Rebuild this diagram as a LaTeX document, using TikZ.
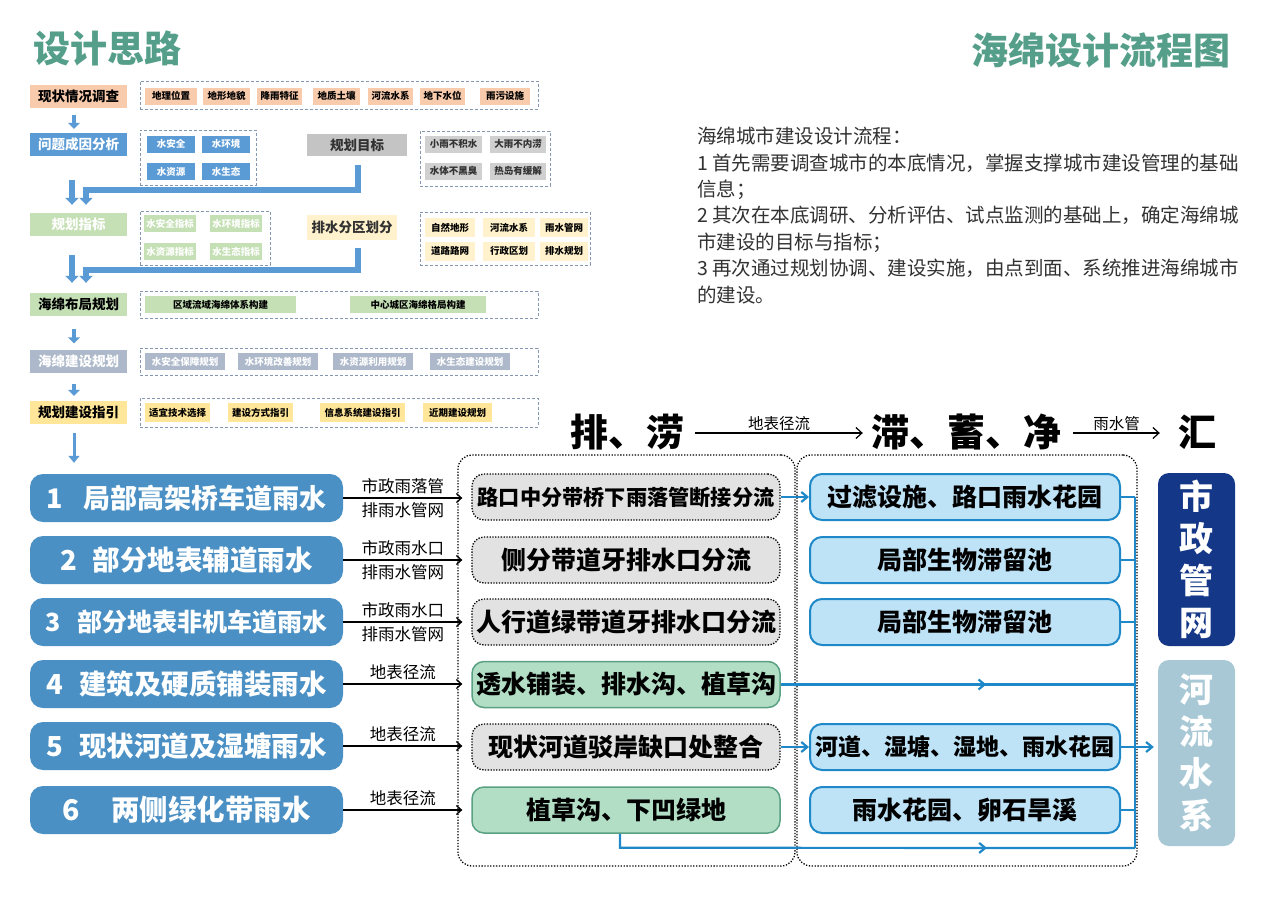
\documentclass[tikz,border=0pt]{standalone}
\usepackage{fontspec}
\setmainfont{Noto Sans CJK SC}
\usetikzlibrary{arrows.meta,calc,decorations.markings}
\newcommand{\myfs}[1]{\fontsize{#1}{#1}\selectfont}
\definecolor{flowblue}{RGB}{91,155,213}
\definecolor{dashc}{RGB}{132,151,176}
\definecolor{salmon}{RGB}{248,203,173}
\definecolor{goalgray}{RGB}{196,196,196}
\definecolor{darktxt}{RGB}{50,50,50}
\definecolor{lgreen}{RGB}{197,224,180}
\definecolor{lyellow}{RGB}{255,242,204}
\definecolor{graybl}{RGB}{173,185,202}
\definecolor{yel}{RGB}{255,230,153}
\definecolor{bigblue}{RGB}{74,144,196}
\definecolor{midgray}{RGB}{226,226,226}
\definecolor{midgreen}{RGB}{178,222,197}
\definecolor{midgreenb}{RGB}{90,160,130}
\definecolor{rfill}{RGB}{190,227,247}
\definecolor{rborder}{RGB}{30,136,200}
\definecolor{navy}{RGB}{20,55,135}
\definecolor{river}{RGB}{168,200,214}
\definecolor{teal}{RGB}{84,158,138}
\begin{document}
\begin{tikzpicture}[x=1pt,y=-1pt,
  mainbox/.style={minimum width=97pt,minimum height=23pt,inner sep=0pt,font=\myfs{13.5}\bfseries},
  item/.style={minimum height=17pt,inner sep=0pt,font=\myfs{9.5}\bfseries},
  dbox/.style={draw=dashc,dash pattern=on 3pt off 2pt,line width=0.8pt,inner sep=0pt},
  fatarrow/.style={draw=flowblue,line width=5.5pt,-{Triangle[length=7pt,width=13pt]}},
  stubarrow/.style={draw=flowblue,line width=4.5pt,-{Triangle[length=6pt,width=12pt]}},
  bigbox/.style={fill=bigblue,rounded corners=13pt,minimum width=313pt,minimum height=48pt,inner sep=0pt,text=white,font=\bfseries},
  midg/.style={fill=midgray,draw=black,dash pattern=on 1.3pt off 1.5pt,line width=1.3pt,rounded corners=12pt,minimum width=308pt,minimum height=46pt,inner sep=0pt,font=\myfs{25}\bfseries},
  midgr/.style={fill=midgreen,draw=midgreenb,line width=1.5pt,rounded corners=12pt,minimum width=308pt,minimum height=46pt,inner sep=0pt,font=\myfs{25}\bfseries},
  rbox/.style={fill=rfill,draw=rborder,line width=2pt,rounded corners=12pt,minimum width=310pt,minimum height=46pt,inner sep=0pt,font=\myfs{25}\bfseries},
  cont/.style={draw=black,dash pattern=on 1.3pt off 1.6pt,line width=1.3pt,rounded corners=14pt,inner sep=0pt},
  larrow/.style={draw=black,line width=1.3pt,-{Straight Barb[length=5pt,width=9pt]}},
  lab/.style={font=\myfs{16.5},inner sep=4pt},
  bl/.style={draw=rborder,line width=2.2pt},
  blarrow/.style={draw=rborder,line width=2.2pt,-{Straight Barb[length=6pt,width=10pt]}},
  midarr/.style={postaction={decorate},decoration={markings,mark=at position #1 with {\arrow[line width=2.2pt]{Straight Barb[length=6pt,width=10pt]}}}},
  hdr/.style={font=\myfs{38}\bfseries,inner sep=0pt},
  harrow/.style={draw=black,line width=1.2pt,-{Straight Barb[length=6pt,width=11pt]}},
  vbox/.style={rounded corners=11pt,minimum width=77pt,inner sep=0pt,text=white,align=center,font=\fontsize{34}{42}\selectfont\bfseries}
]
\useasboundingbox (0,0) rectangle (1266,897);
\fill[white] (0,0) rectangle (1266,897);

% titles
\node[text=teal,font=\myfs{37}\bfseries,inner sep=0pt] (t1) at (107,48) {设计思路};
\node[text=teal,font=\myfs{37}\bfseries,inner sep=0pt] (t2) at (1101,50) {海绵设计流程图};

% ---------- left flowchart ----------
\node[mainbox,fill=salmon] (r1) at (78.5,96) {现状情况调查};
\node[dbox,minimum width=398pt,minimum height=28pt] (d1) at (339,95) {};
\foreach \x/\w/\t in {171/52/地理位置,226.5/47/地形地貌,279.5/45/降雨特征,336.5/47/地质土壤,390.5/45/河流水系,442.5/45/地下水位,505/50/雨污设施}
  \node[item,fill=salmon,minimum width=\w pt] (i1\x) at (\x,96) {\t};

\node[mainbox,fill=flowblue,text=white] (r2) at (78.5,144.5) {问题成因分析};
\node[dbox,minimum width=116pt,minimum height=55pt] (d2) at (198,157.5) {};
\node[item,fill=flowblue,text=white,minimum width=48pt] (a1) at (171,144) {水安全};
\node[item,fill=flowblue,text=white,minimum width=48pt] (a2) at (226,144) {水环境};
\node[item,fill=flowblue,text=white,minimum width=48pt] (a3) at (171,171.5) {水资源};
\node[item,fill=flowblue,text=white,minimum width=48pt] (a4) at (226,171.5) {水生态};
\node[mainbox,fill=goalgray,text=darktxt,minimum width=100pt,minimum height=22pt] (goal) at (357,145) {规划目标};
\node[dbox,minimum width=130pt,minimum height=55pt] (d2b) at (485,158.5) {};
\node[item,fill=goalgray!80,text=darktxt,minimum width=57pt] (g1) at (453.5,144) {小雨不积水};
\node[item,fill=goalgray!80,text=darktxt,minimum width=56pt] (g2) at (518,144) {大雨不内涝};
\node[item,fill=goalgray!80,text=darktxt,minimum width=57pt] (g3) at (453.5,171) {水体不黑臭};
\node[item,fill=goalgray!80,text=darktxt,minimum width=56pt] (g4) at (518,171) {热岛有缓解};

\node[mainbox,fill=lgreen,text=white] (r3) at (78.5,224.5) {规划指标};
\node[dbox,minimum width=130pt,minimum height=54pt] (d3) at (205,238) {};
\node[item,fill=lgreen,text=white,minimum width=52pt] (b1) at (170,223.5) {水安全指标};
\node[item,fill=lgreen,text=white,minimum width=52pt] (b2) at (236,223.5) {水环境指标};
\node[item,fill=lgreen,text=white,minimum width=52pt] (b3) at (170,251.5) {水资源指标};
\node[item,fill=lgreen,text=white,minimum width=52pt] (b4) at (236,251.5) {水生态指标};
\node[mainbox,fill=lyellow,text=darktxt,minimum width=90pt,minimum height=25pt] (zone) at (352,227.5) {排水分区划分};
\node[dbox,minimum width=170pt,minimum height=53pt] (d3b) at (505,238.5) {};
\node[item,fill=lyellow,minimum width=50pt,minimum height=19pt] (z1) at (450,227.5) {自然地形};
\node[item,fill=lyellow,minimum width=52pt,minimum height=19pt] (z2) at (509,227.5) {河流水系};
\node[item,fill=lyellow,minimum width=48pt,minimum height=19pt] (z3) at (564,227.5) {雨水管网};
\node[item,fill=lyellow,minimum width=50pt,minimum height=19pt] (z4) at (450,251) {道路路网};
\node[item,fill=lyellow,minimum width=52pt,minimum height=19pt] (z5) at (509,251) {行政区划};
\node[item,fill=lyellow,minimum width=48pt,minimum height=19pt] (z6) at (564,251) {排水规划};

\node[mainbox,fill=lgreen] (r4) at (78.5,304.5) {海绵布局规划};
\node[dbox,minimum width=398pt,minimum height=27pt] (d4) at (339,304.5) {};
\node[item,fill=lgreen,minimum width=151pt] (c1) at (220.5,304.5) {区域流域海绵体系构建};
\node[item,fill=lgreen,minimum width=136pt] (c2) at (418,304.5) {中心城区海绵格局构建};

\node[mainbox,fill=graybl,text=white] (r5) at (78.5,361) {海绵建设规划};
\node[dbox,minimum width=398pt,minimum height=27pt] (d5) at (339,361.5) {};
\foreach \x/\t in {185/水安全保障规划,278/水环境改善规划,373/水资源利用规划,470/水生态建设规划}
  \node[item,fill=graybl,text=white,minimum width=80pt] (e\x) at (\x,361.5) {\t};

\node[mainbox,fill=yel] (r6) at (78.5,412.5) {规划建设指引};
\node[dbox,minimum width=398pt,minimum height=29pt] (d6) at (339,412.5) {};
\node[item,fill=yel,minimum width=65pt,minimum height=19pt] (f1) at (177.5,412.5) {适宜技术选择};
\node[item,fill=yel,minimum width=65pt,minimum height=19pt] (f2) at (260.5,412.5) {建设方式指引};
\node[item,fill=yel,minimum width=85pt,minimum height=19pt] (f3) at (362.5,412.5) {信息系统建设指引};
\node[item,fill=yel,minimum width=69pt,minimum height=19pt] (f4) at (457.5,412.5) {近期建设规划};

% flow arrows
\draw[stubarrow] ([xshift=-4.5pt,yshift=-7pt]r1.south) -- ([xshift=-4.5pt,yshift=4pt]r2.north);
\draw[fatarrow] ([xshift=-6.5pt,yshift=-24pt]r2.south) -- ([xshift=-6.5pt,yshift=8pt]r3.north);
\draw[fatarrow] ([xshift=1pt,yshift=-9pt]goal.south) -- ++(0,25) -| ([xshift=7.5pt,yshift=8pt]r3.north);
\draw[fatarrow] ([xshift=-6.5pt,yshift=-19pt]r3.south) -- ([xshift=-6.5pt,yshift=10pt]r4.north);
\draw[fatarrow] ([xshift=6pt,yshift=-8pt]zone.south) -- ++(0,22) -| ([xshift=7.5pt,yshift=10pt]r4.north);
\draw[stubarrow] ([xshift=-4.5pt,yshift=-13pt]r4.south) -- ([xshift=-4.5pt,yshift=6pt]r5.north);
\draw[stubarrow] ([xshift=-4.5pt,yshift=-11pt]r5.south) -- ([xshift=-4.5pt,yshift=5pt]r6.north);

% ---------- right text ----------
\node[anchor=north west,align=left,inner sep=0pt,text=darktxt,font=\fontsize{19.5}{26.4}\selectfont] (para) at (697,127) {海绵城市建设设计流程：\\
1 首先需要调查城市的本底情况，掌握支撑城市建设管理的基础\\
信息；\\
2 其次在本底调研、分析评估、试点监测的基础上，确定海绵城\\
市建设的目标与指标；\\
3 再次通过规划协调、建设实施，由点到面、系统推进海绵城市\\
的建设。};

% ---------- header ----------
\node[hdr] (h1) at (627,432) {排、涝};
\node[hdr] (h2) at (966,432) {滞、蓄、净};
\node[hdr] (h3) at (1197,432) {汇};
\draw[harrow] ([xshift=11pt,yshift=-1pt]h1.east) -- node[lab,above,font=\myfs{15.5},inner sep=2pt] {地表径流} ([xshift=-8pt,yshift=-1pt]h2.west);
\draw[harrow] ([xshift=12pt,yshift=-1pt]h2.east) -- node[lab,above,font=\myfs{15.5},inner sep=2pt] {雨水管} ([xshift=-18pt,yshift=-1pt]h3.west);

% ---------- containers ----------
\node[cont,minimum width=337pt,minimum height=411pt] (C1) at (626.5,660.5) {};
\node[cont,minimum width=340pt,minimum height=411pt] (C2) at (967,660.5) {};

% ---------- left big boxes ----------
\node[bigbox,font=\myfs{27}\bfseries] (L1) at (186.5,498) {1\hspace{20pt}局部高架桥车道雨水};
\node[bigbox,font=\myfs{27.5}\bfseries] (L2) at (186.5,560) {2\hspace{16pt}部分地表辅道雨水};
\node[bigbox,font=\myfs{25}\bfseries] (L3) at (186.5,622) {3\hspace{16pt}部分地表非机车道雨水};
\node[bigbox,font=\myfs{27.5}\bfseries] (L4) at (186.5,684) {4\hspace{16pt}建筑及硬质铺装雨水};
\node[bigbox,font=\myfs{27.5}\bfseries] (L5) at (186.5,746) {5\hspace{16pt}现状河道及湿塘雨水};
\node[bigbox,font=\myfs{28.5}\bfseries] (L6) at (186.5,810) {6\hspace{32pt}两侧绿化带雨水};

% ---------- middle boxes ----------
\node[midg,font=\myfs{21.2}\bfseries] (M1) at (626,497) {路口中分带桥下雨落管断接分流};
\node[midg] (M2) at (626,560) {侧分带道牙排水口分流};
\node[midg] (M3) at (626,622) {人行道绿带道牙排水口分流};
\node[midgr] (M4) at (626,684.5) {透水铺装、排水沟、植草沟};
\node[midg] (M5) at (626,747) {现状河道驳岸缺口处整合};
\node[midgr] (M6) at (626,810) {植草沟、下凹绿地};

% ---------- right boxes ----------
\node[rbox] (R1) at (965,497) {过滤设施、路口雨水花园};
\node[rbox] (R2) at (965,560) {局部生物滞留池};
\node[rbox] (R3) at (965,622) {局部生物滞留池};
\node[rbox,font=\myfs{23}\bfseries] (R5) at (965,747) {河道、湿塘、湿地、雨水花园};
\node[rbox] (R6) at (965,810) {雨水花园、卵石旱溪};

% ---------- outlets ----------
\node[vbox,fill=navy,minimum height=173pt] (SZ) at (1196.5,559.5) {市\\政\\管\\网};
\node[vbox,fill=river,minimum height=186pt] (HL) at (1196.5,753) {河\\流\\水\\系};

% ---------- left arrows ----------
\draw[larrow] (L1.east) -- node[lab,above] {市政雨落管} node[lab,below] {排雨水管网} ([xshift=5pt]C1.west |- L1.east);
\draw[larrow] (L2.east) -- node[lab,above] {市政雨水口} node[lab,below] {排雨水管网} ([xshift=5pt]C1.west |- L2.east);
\draw[larrow] (L3.east) -- node[lab,above] {市政雨水口} node[lab,below] {排雨水管网} ([xshift=5pt]C1.west |- L3.east);
\draw[larrow] (L4.east) -- node[lab,above] {地表径流} ([xshift=5pt]C1.west |- L4.east);
\draw[larrow] (L5.east) -- node[lab,above] {地表径流} ([xshift=5pt]C1.west |- L5.east);
\draw[larrow] (L6.east) -- node[lab,above] {地表径流} ([xshift=5pt]C1.west |- L6.east);

% flow arrow into first row
\draw[draw=flowblue,line width=3pt,-{Triangle[length=7pt,width=11pt]}] ($(r6.south)+(-4.5,9)$) -- ($(r6.south |- L1.north)+(-4.5,-11)$);

% ---------- blue connectors ----------
\coordinate (busT) at (1135,497);
\coordinate (busB) at (1135,848);
\draw[blarrow] (M1.east) -- (R1.west);
\draw[blarrow] (M5.east) -- (R5.west);
\draw[bl,midarr=0.58] (M4.east) -- (M4.east -| busT);
\draw[bl,midarr=0.72] ([xshift=-6pt]M6.south) -- ++(0,14) -- (busB);
\draw[bl] (busT) -- (busB);
\draw[bl] (R1.east) -- (R1.east -| busT);
\draw[bl] (R2.east) -- (R2.east -| busT);
\draw[bl] (R3.east) -- (R3.east -| busT);
\draw[bl] (R5.east) -- (R5.east -| busT);
\draw[bl] (R6.east) -- (R6.east -| busT);
\draw[blarrow] (R5.east -| busT) -- ([xshift=-4pt]HL.west |- R5.east);
\end{tikzpicture}
\end{document}
